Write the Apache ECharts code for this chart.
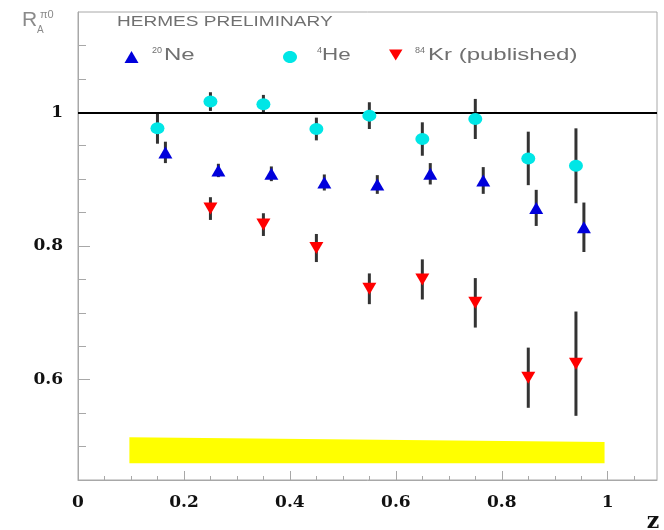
<!DOCTYPE html>
<html>
<head>
<meta charset="utf-8">
<script src="https://cdn.jsdelivr.net/npm/echarts@6/dist/echarts.min.js"></script>
<style>
  html, body { margin: 0; padding: 0; background: #ffffff; }
  #chart { width: 664px; height: 530px; }
</style>
</head>
<body>
<div id="chart"></div>
<script>
// Nuclear attenuation ratio R_A for pi0 versus z

// 4He (cyan circles)
const heZ   = [0.15, 0.25, 0.35, 0.45, 0.55, 0.65, 0.75, 0.85, 0.94];
const heR   = [0.976, 1.016, 1.012, 0.975, 0.995, 0.960, 0.990, 0.931, 0.920];
const heErr = [0.023, 0.014, 0.014, 0.017, 0.020, 0.025, 0.030, 0.040, 0.056];

// 20Ne (blue triangles)
const neZ   = [0.165, 0.265, 0.365, 0.465, 0.565, 0.665, 0.765, 0.865, 0.955];
const neR   = [0.940, 0.913, 0.908, 0.895, 0.892, 0.908, 0.898, 0.857, 0.828];
const neErr = [0.016, 0.010, 0.011, 0.012, 0.014, 0.016, 0.020, 0.027, 0.037];

// 84Kr published (red inverted triangles)
const krZ   = [0.25, 0.35, 0.45, 0.55, 0.65, 0.75, 0.85, 0.94];
const krR   = [0.856, 0.832, 0.797, 0.736, 0.750, 0.715, 0.603, 0.624];
const krErr = [0.017, 0.017, 0.021, 0.023, 0.030, 0.037, 0.045, 0.078];

// systematic uncertainty band
const sysZ    = [0.097, 0.994];
const sysLow  = [0.475, 0.475];
const sysHigh = [0.514, 0.507];

// axis ranges and ticks
const xRange = [0, 1.093];
const yRange = [0.45, 1.15];
const xMajorTicks = [0, 0.2, 0.4, 0.6, 0.8, 1];
const xMinorTicks = [0.05, 0.1, 0.15, 0.25, 0.3, 0.35, 0.45, 0.5, 0.55, 0.65, 0.7, 0.75, 0.85, 0.9, 0.95, 1.05];
const yMajorTicks = [0.6, 0.8, 1];
const yMinorTicks = [0.5, 0.55, 0.65, 0.7, 0.75, 0.85, 0.9, 0.95, 1.05, 1.1];
const unity = 1;

const frameColor = '#a8a8a8';
const labelFont = { fontFamily: 'DejaVu Serif', fontWeight: 'bold', fontSize: 17, color: '#111' };
const ellipsePath = 'path://M0,6a7,6 0 1,0 14,0a7,6 0 1,0 -14,0z';

function errorData(z, r, e) {
  return z.map((v, i) => [v, r[i] - e[i], r[i] + e[i]]);
}
function pointData(z, r) {
  return z.map((v, i) => [v, r[i]]);
}

function errorBarSeries(z, r, e) {
  return {
    type: 'custom',
    z: 3,
    silent: true,
    data: errorData(z, r, e),
    encode: { x: 0, y: [1, 2] },
    renderItem: function (params, api) {
      const lo = api.coord([api.value(0), api.value(1)]);
      const hi = api.coord([api.value(0), api.value(2)]);
      return {
        type: 'line',
        shape: { x1: lo[0], y1: lo[1], x2: hi[0], y2: hi[1] },
        style: { stroke: '#333333', lineWidth: 3 }
      };
    }
  };
}

const sansFont = '"Liberation Sans", Arial, sans-serif';
const textGray = '#707070';
const legendFont = '16px ' + sansFont;
const legendScale = 1.5;

const chart = echarts.init(document.getElementById('chart'), null, { renderer: 'canvas' });

chart.setOption({
  animation: false,
  backgroundColor: '#ffffff',
  grid: {
    left: 78, top: 12, width: 579, height: 468,
    show: true, borderColor: frameColor, borderWidth: 1, backgroundColor: 'transparent'
  },
  xAxis: [
    {
      type: 'value', min: xRange[0], max: xRange[1], position: 'bottom',
      axisLine: { show: true, lineStyle: { color: frameColor, width: 1 } },
      axisTick: { show: true, inside: true, length: 9, customValues: xMajorTicks, lineStyle: { color: frameColor } },
      axisLabel: Object.assign({ customValues: xMajorTicks, margin: 14, lineHeight: 17 }, labelFont),
      splitLine: { show: false }
    },
    {
      type: 'value', min: xRange[0], max: xRange[1], position: 'bottom', offset: 0,
      axisLine: { show: false },
      axisTick: { show: true, inside: true, length: 4, customValues: xMinorTicks, lineStyle: { color: frameColor } },
      axisLabel: { show: false },
      splitLine: { show: false }
    }
  ],
  yAxis: [
    {
      type: 'value', min: yRange[0], max: yRange[1], position: 'left',
      axisLine: { show: true, lineStyle: { color: frameColor, width: 1 } },
      axisTick: { show: true, inside: true, length: 12, customValues: yMajorTicks, lineStyle: { color: frameColor } },
      axisLabel: Object.assign({ customValues: yMajorTicks, margin: 15 }, labelFont),
      splitLine: { show: false }
    },
    {
      type: 'value', min: yRange[0], max: yRange[1], position: 'left', offset: 0,
      axisLine: { show: false },
      axisTick: { show: true, inside: true, length: 8, customValues: yMinorTicks, lineStyle: { color: frameColor } },
      axisLabel: { show: false },
      splitLine: { show: false }
    }
  ],
  series: [
    {
      // systematic band, with the R = 1 reference line
      type: 'custom',
      z: 1,
      silent: true,
      data: [[sysZ[0], sysLow[0], sysHigh[0], sysZ[1], sysLow[1], sysHigh[1]]],
      renderItem: function (params, api) {
        const p1 = api.coord([api.value(0), api.value(2)]);
        const p2 = api.coord([api.value(3), api.value(5)]);
        const p3 = api.coord([api.value(3), api.value(4)]);
        const p4 = api.coord([api.value(0), api.value(1)]);
        return { type: 'polygon', shape: { points: [p1, p2, p3, p4] }, style: { fill: '#ffff00' } };
      },
      markLine: {
        silent: true, symbol: 'none', animation: false,
        label: { show: false },
        lineStyle: { color: '#000000', width: 2, type: 'solid' },
        data: [{ yAxis: unity }]
      }
    },
    errorBarSeries(heZ, heR, heErr),
    errorBarSeries(neZ, neR, neErr),
    errorBarSeries(krZ, krR, krErr),
    {
      name: '4He', type: 'scatter', z: 5, silent: true,
      symbol: ellipsePath, symbolSize: [14, 12],
      itemStyle: { color: '#00e6e6', opacity: 1 },
      data: pointData(heZ, heR)
    },
    {
      name: '20Ne', type: 'scatter', z: 5, silent: true,
      symbol: 'triangle', symbolSize: [14, 12],
      itemStyle: { color: '#0000dc', opacity: 1 },
      data: pointData(neZ, neR)
    },
    {
      name: '84Kr (published)', type: 'scatter', z: 5, silent: true,
      symbol: 'triangle', symbolRotate: 180, symbolSize: [14, 12],
      itemStyle: { color: '#ff0000', opacity: 1 },
      data: pointData(krZ, krR)
    }
  ],
  graphic: [
    // axis titles
    { type: 'text', x: 22, y: 31, style: { text: 'R', font: '21px ' + sansFont, fill: '#8a8a8a', textVerticalAlign: 'bottom' } },
    { type: 'text', x: 37, y: 35, style: { text: 'A', font: '10px ' + sansFont, fill: '#8a8a8a', textVerticalAlign: 'bottom' } },
    { type: 'text', x: 40, y: 20, style: { text: 'π0', font: '11px ' + sansFont, fill: '#8a8a8a', textVerticalAlign: 'bottom' } },
    { type: 'text', x: 653, y: 522, style: { text: 'z', font: 'bold 22px "DejaVu Serif"', fill: '#111', textAlign: 'center', textVerticalAlign: 'middle' } },

    // header
    { type: 'text', x: 117, y: 29, scaleX: 1.27, style: { text: 'HERMES PRELIMINARY', font: '15px ' + sansFont, fill: textGray, textVerticalAlign: 'bottom' } },

    // legend
    { type: 'polygon', shape: { points: [[131.5, 51], [138.5, 63], [124.5, 63]] }, style: { fill: '#0000dc' } },
    { type: 'text', x: 152, y: 55, style: { text: '20', font: '9px ' + sansFont, fill: textGray, textVerticalAlign: 'bottom' } },
    { type: 'text', x: 164, y: 64, scaleX: legendScale, style: { text: 'Ne', font: legendFont, fill: textGray, textVerticalAlign: 'bottom' } },

    { type: 'ellipse', shape: { cx: 290, cy: 57, rx: 7, ry: 6 }, style: { fill: '#00e6e6' } },
    { type: 'text', x: 317, y: 55, style: { text: '4', font: '9px ' + sansFont, fill: textGray, textVerticalAlign: 'bottom' } },
    { type: 'text', x: 322, y: 64, scaleX: 1.4, style: { text: 'He', font: legendFont, fill: textGray, textVerticalAlign: 'bottom' } },

    { type: 'polygon', shape: { points: [[389, 49.5], [402.5, 49.5], [395.7, 60.5]] }, style: { fill: '#ff0000' } },
    { type: 'text', x: 415, y: 55, style: { text: '84', font: '9px ' + sansFont, fill: textGray, textVerticalAlign: 'bottom' } },
    { type: 'text', x: 428, y: 64, scaleX: legendScale, style: { text: 'Kr (published)', font: legendFont, fill: textGray, textVerticalAlign: 'bottom' } }
  ]
});
</script>
</body>
</html>
